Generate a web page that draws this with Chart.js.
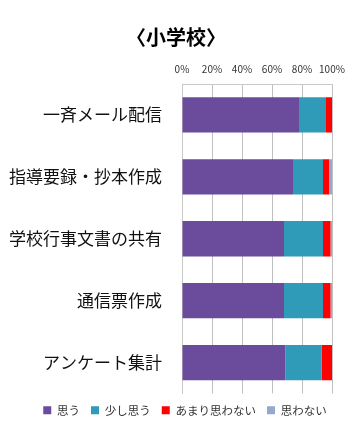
<!DOCTYPE html>
<html>
<head>
<meta charset="utf-8">
<script src="https://cdn.jsdelivr.net/npm/chart.js@4"></script>
<style>
  html, body { margin: 0; padding: 0; background: #fff; }
  #wrap { width: 357px; height: 436px; }
</style>
</head>
<body>
<div id="wrap"><canvas id="chart" width="357" height="436"></canvas></div>
<script>
const categories = ["一斉メール配信", "指導要録・抄本作成", "学校行事文書の共有", "通信票作成", "アンケート集計"];
const seriesNames = ["思う", "少し思う", "あまり思わない", "思わない"];
const omou = [78, 74, 68, 68, 69];
const sukoshi = [18, 20, 26, 26, 24];
const amari = [4, 4, 5, 5, 7];
const omowanai = [0, 2, 1, 1, 0];
const xTicks = [0, 20, 40, 60, 80, 100];

const colors = ["#6a4b9c", "#2f9bb9", "#ff0000", "#93a9cf"];
const FONT = "'Noto Sans CJK JP', 'Noto Sans', sans-serif";

const ctx = document.getElementById("chart").getContext("2d");
const values = [omou, sukoshi, amari, omowanai];

// title and legend sit a bit right of centre in the original
const shiftBoxes = {
  id: "shiftBoxes",
  afterLayout(chart) {
    chart.titleBlock.left += 10;
    chart.titleBlock.right += 10;
    chart.legend.left += 19;
    chart.legend.right += 19;
  }
};

new Chart(ctx, {
  type: "bar",
  data: {
    labels: categories,
    datasets: seriesNames.map((name, i) => ({
      label: name,
      data: values[i],
      backgroundColor: colors[i],
      borderWidth: 0,
      barPercentage: 0.57,
      categoryPercentage: 1
    }))
  },
  options: {
    indexAxis: "y",
    responsive: false,
    animation: false,
    layout: { padding: { top: 25, right: 25, bottom: 10, left: 0 } },
    plugins: {
      title: {
        display: true,
        text: "〈小学校〉",
        color: "#000",
        font: { family: FONT, size: 20, weight: "bold" },
        padding: { top: 0, bottom: 5 }
      },
      legend: {
        position: "bottom",
        labels: {
          boxWidth: 8,
          boxHeight: 8,
          padding: 11,
          color: "#333",
          font: { family: FONT, size: 11.5 }
        }
      },
      tooltip: { enabled: false }
    },
    scales: {
      x: {
        position: "top",
        stacked: true,
        min: 0,
        max: 100,
        afterBuildTicks: axis => { axis.ticks = xTicks.map(v => ({ value: v })); },
        ticks: {
          callback: v => v + "%",
          color: "#333",
          maxRotation: 0,
          autoSkip: false,
          font: { family: FONT, size: 10 },
          padding: 9
        },
        grid: { color: "#c0c0c0", drawTicks: false },
        border: { color: "#c8c8c8" }
      },
      y: {
        stacked: true,
        afterFit: scale => { scale.width = 182; },
        ticks: {
          color: "#111",
          font: { family: FONT, size: 17 },
          padding: 20
        },
        grid: { display: false, drawTicks: false },
        border: { color: "#c8c8c8" }
      }
    }
  },
  plugins: [shiftBoxes]
});
</script>
</body>
</html>
